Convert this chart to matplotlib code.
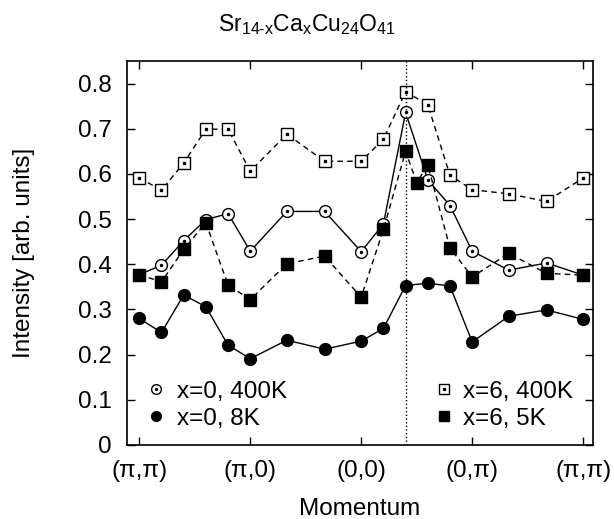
import numpy as np
import matplotlib.pyplot as plt
from matplotlib.lines import Line2D
from matplotlib.legend_handler import HandlerTuple

plt.rcParams['font.family'] = ['Liberation Sans', 'DejaVu Sans']
plt.rcParams['mathtext.fontset'] = 'custom'
plt.rcParams['mathtext.rm'] = 'Liberation Sans'
plt.rcParams['mathtext.it'] = 'Liberation Sans'

# momentum positions in units of tick spacing: (pi,pi)=0, (pi,0)=1, (0,0)=2, (0,pi)=3, (pi,pi)=4
k = [0, 0.2, 0.4, 0.6, 0.8, 1.0, 1.33, 1.67, 2.0, 2.2, 2.4, 2.6, 2.8, 3.0, 3.33, 3.67, 4.0]
k_x6_5K = [0, 0.2, 0.4, 0.6, 0.8, 1.0, 1.33, 1.67, 2.0, 2.2, 2.4, 2.5, 2.6, 2.8, 3.0, 3.33, 3.67, 4.0]

x0_400K = [0.377, 0.398, 0.452, 0.499, 0.512, 0.429, 0.517, 0.517, 0.428, 0.489, 0.736,
           0.587, 0.530, 0.429, 0.387, 0.403, 0.376]
x0_8K = [0.280, 0.249, 0.332, 0.306, 0.221, 0.191, 0.232, 0.212, 0.230, 0.258, 0.353,
         0.358, 0.352, 0.228, 0.285, 0.299, 0.278]
x6_400K = [0.591, 0.564, 0.624, 0.699, 0.699, 0.606, 0.688, 0.628, 0.628, 0.677, 0.782,
           0.753, 0.597, 0.565, 0.556, 0.539, 0.591]
x6_5K = [0.377, 0.361, 0.433, 0.492, 0.354, 0.322, 0.401, 0.418, 0.327, 0.477, 0.650,
         0.581, 0.620, 0.436, 0.372, 0.424, 0.380, 0.376]

tick_pos = [0, 1, 2, 3, 4]
tick_labels = ['(π,π)', '(π,0)', '(0,0)', '(0,π)', '(π,π)']
k_line = 2.4

fig = plt.figure(figsize=(6.14, 5.19), dpi=100)
ax = fig.add_axes([0.207, 0.1426, 0.759, 0.7399])

ms = 8.5
lw = 1.0
fs = 17.5
ax.plot(k, x0_400K, '-', color='black', lw=lw, marker='o', ms=ms,
        mfc='white', mec='black', mew=1.0)
ax.plot(k, x0_400K, ls='none', marker='o', ms=1.5, color='black')
ax.plot(k, x0_8K, '-', color='black', lw=lw, marker='o', ms=ms, mfc='black', mec='black')
ax.plot(k, x6_400K, '--', color='black', lw=lw, marker='s', ms=ms,
        mfc='white', mec='black', mew=1.0, dashes=(4, 3))
ax.plot(k, x6_400K, ls='none', marker='s', ms=1.5, color='black')
ax.plot(k_x6_5K, x6_5K, '--', color='black', lw=lw, marker='s', ms=ms,
        mfc='black', mec='black', dashes=(4, 3))

ax.axvline(k_line, color='black', lw=1.0, ls=':')

ax.set_xlim(-0.11, 4.09)
ax.set_ylim(0, 0.85)
ax.set_xticks(tick_pos)
ax.set_xticklabels(tick_labels)
ax.set_yticks(np.arange(0, 0.81, 0.1))
ax.set_yticklabels(['0', '0.1', '0.2', '0.3', '0.4', '0.5', '0.6', '0.7', '0.8'])
ax.tick_params(direction='in', top=True, right=True, length=6, width=1.0, labelsize=fs)
ax.tick_params(axis='y', pad=11)
ax.tick_params(axis='x', pad=11)
for s in ax.spines.values():
    s.set_linewidth(1.2)

ax.set_xlabel('Momentum', fontsize=fs, labelpad=11)
ax.set_ylabel('Intensity [arb. units]', fontsize=fs, labelpad=31)
fig.text(0.5, 0.94, r'$\mathregular{Sr_{14\text{-}x}Ca_xCu_{24}O_{41}}$', fontsize=16.5,
         ha='center', va='baseline')

lms = 7
open_c = (Line2D([], [], ls='none', marker='o', ms=lms, mfc='white', mec='black', mew=1.0),
          Line2D([], [], ls='none', marker='o', ms=1.3, color='black'))
fill_c = Line2D([], [], ls='none', marker='o', ms=lms, color='black')
open_s = (Line2D([], [], ls='none', marker='s', ms=lms, mfc='white', mec='black', mew=1.0),
          Line2D([], [], ls='none', marker='s', ms=1.3, color='black'))
fill_s = Line2D([], [], ls='none', marker='s', ms=lms, color='black')

hm = {tuple: HandlerTuple(ndivide=1, pad=0)}
leg1 = ax.legend([open_c, fill_c], ['x=0, 400K', 'x=0, 8K'], handler_map=hm,
                 loc='lower left', bbox_to_anchor=(0.035, 0.04), frameon=False,
                 fontsize=fs, borderpad=0, handlelength=1.0, handletextpad=0.4,
                 labelspacing=0.2, borderaxespad=0)
ax.add_artist(leg1)
ax.legend([open_s, fill_s], ['x=6, 400K', 'x=6, 5K'], handler_map=hm,
          loc='lower left', bbox_to_anchor=(0.653, 0.04), frameon=False,
          fontsize=fs, borderpad=0, handlelength=1.0, handletextpad=0.3,
          labelspacing=0.2, borderaxespad=0)

fig.savefig('out.png', dpi=100)
